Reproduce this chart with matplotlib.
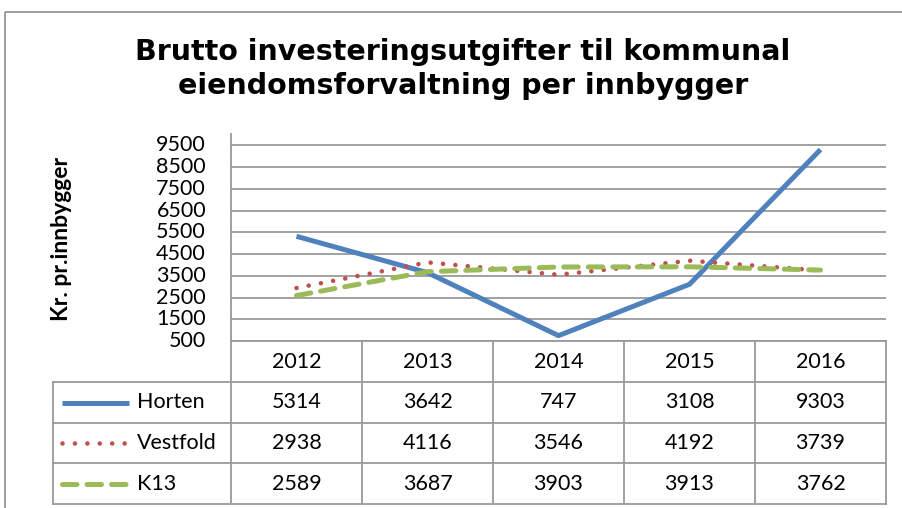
"""Brutto investeringsutgifter til kommunal eiendomsforvaltning per innbygger.

Excel-style line chart with a data table underneath (legend keys in the table).
"""

import matplotlib

matplotlib.use("Agg")
import matplotlib.pyplot as plt  # noqa: E402
from matplotlib.patches import Rectangle  # noqa: E402

# ----------------------------------------------------------------------------
# Data
# ----------------------------------------------------------------------------
YEARS = ["2012", "2013", "2014", "2015", "2016"]
HORTEN = [5314, 3642, 747, 3108, 9303]
VESTFOLD = [2938, 4116, 3546, 4192, 3739]
K13 = [2589, 3687, 3903, 3913, 3762]
SERIES_NAMES = ["Horten", "Vestfold", "K13"]
Y_TICKS = [500, 1500, 2500, 3500, 4500, 5500, 6500, 7500, 8500, 9500]

TITLE = "Brutto investeringsutgifter til kommunal\neiendomsforvaltning per innbygger"
Y_LABEL = "Kr. pr.innbygger"

# ----------------------------------------------------------------------------
# Styles / layout (pixel coordinates of a 902x508 canvas)
# ----------------------------------------------------------------------------
W, H = 902, 508
STYLES = [
    dict(color="#4F81BD", lw=3.6, ls="-", solid_capstyle="butt"),
    dict(color="#C0504D", lw=3.3, ls=(0, (0.01, 2.7)), dash_capstyle="round"),
    dict(color="#9BBB59", lw=3.6, ls=(0, (2.9, 2.0)), dash_capstyle="round"),
]
GRID_COLOR = "#9A9A9A"
TEXT_SIZE = 15.5

PLOT_L, PLOT_R = 231, 886
PLOT_B = 341
ROW_EDGES = [341, 382, 423, 463, 504]
TABLE_L = 53

plt.rcParams["font.family"] = ["Lato", "DejaVu Sans"]

fig = plt.figure(figsize=(W / 100, H / 100), dpi=100)

# Overlay axes in pixel units for frame, title and data table
ov = fig.add_axes([0, 0, 1, 1], zorder=0)
ov.set_xlim(0, W)
ov.set_ylim(H, 0)
ov.axis("off")

# outer chart border (continues past the right/bottom edge of the crop)
ov.add_patch(Rectangle((5, 12), W, H, fill=False, ec="#8C8C8C", lw=1.2))

ov.text(463, 69, TITLE, ha="center", va="center",
        family="DejaVu Sans", weight="bold", fontsize=20.5, linespacing=1.3)

# ----------------------------------------------------------------------------
# Main plot area
# ----------------------------------------------------------------------------
ax_h = (PLOT_B - 134.4) / H
ax = fig.add_axes([PLOT_L / W, 1 - PLOT_B / H, (PLOT_R - PLOT_L) / W, ax_h], zorder=2)
ax.patch.set_alpha(0)
x = list(range(len(YEARS)))
for vals, st in zip([HORTEN, VESTFOLD, K13], STYLES):
    ax.plot(x, vals, clip_on=False, **st)

ax.set_xlim(-0.5, len(YEARS) - 0.5)
ax.set_ylim(500, 10000)
ax.set_yticks(Y_TICKS)
ax.set_xticks([])
ax.yaxis.grid(True, color=GRID_COLOR, lw=1.3)
ax.set_axisbelow(True)
ax.tick_params(axis="y", length=0, pad=18, labelsize=TEXT_SIZE)
for lab in ax.get_yticklabels():
    lab.set_verticalalignment("center")
for side in ["top", "right", "bottom"]:
    ax.spines[side].set_visible(False)
ax.spines["left"].set_color(GRID_COLOR)
ax.spines["left"].set_linewidth(1.3)

fig.text(62 / W, 1 - 239 / H, Y_LABEL, rotation=90, ha="center", va="center",
         weight="bold", fontsize=16.5)

# ----------------------------------------------------------------------------
# Data table
# ----------------------------------------------------------------------------
col_w = (PLOT_R - PLOT_L) / len(YEARS)
line_kw = dict(color=GRID_COLOR, lw=1.3)

# horizontal lines
ov.plot([PLOT_L, PLOT_R], [ROW_EDGES[0]] * 2, **line_kw)
for yy in ROW_EDGES[1:]:
    ov.plot([TABLE_L, PLOT_R], [yy, yy], **line_kw)
# vertical lines
for i in range(len(YEARS) + 1):
    xx = PLOT_L + i * col_w
    ov.plot([xx, xx], [ROW_EDGES[0], ROW_EDGES[-1]], **line_kw)
ov.plot([TABLE_L, TABLE_L], [ROW_EDGES[1], ROW_EDGES[-1]], **line_kw)


def row_mid(r):
    return (ROW_EDGES[r] + ROW_EDGES[r + 1]) / 2


for i, yr in enumerate(YEARS):
    ov.text(PLOT_L + (i + 0.5) * col_w, row_mid(0), yr, ha="center", va="center",
            fontsize=TEXT_SIZE)

for r, (name, vals, st) in enumerate(zip(SERIES_NAMES, [HORTEN, VESTFOLD, K13], STYLES), start=1):
    ym = row_mid(r)
    ov.plot([62, 129], [ym, ym], **st)
    ov.text(137, ym, name, ha="left", va="center", fontsize=TEXT_SIZE)
    for i, v in enumerate(vals):
        ov.text(PLOT_L + (i + 0.5) * col_w, ym, str(v), ha="center", va="center",
                fontsize=TEXT_SIZE)

fig.savefig("out.png", dpi=100)
plt.close(fig)
